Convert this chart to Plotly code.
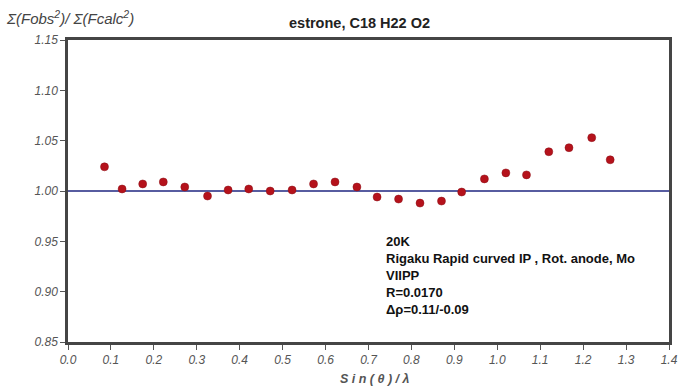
import plotly.graph_objects as go

# data
sin_theta = [0.085, 0.126, 0.174, 0.222, 0.272, 0.325, 0.373, 0.421, 0.471,
             0.522, 0.572, 0.622, 0.673, 0.720, 0.770, 0.820, 0.870, 0.917,
             0.970, 1.020, 1.068, 1.120, 1.167, 1.220, 1.263]
ratio = [1.024, 1.002, 1.007, 1.009, 1.004, 0.995, 1.001, 1.002, 1.000,
         1.001, 1.007, 1.009, 1.004, 0.994, 0.992, 0.988, 0.990, 0.999,
         1.012, 1.018, 1.016, 1.039, 1.043, 1.053, 1.031]
ref_x = [0.0, 1.4]
ref_y = [1.0, 1.0]
x_ticks = [round(0.1 * i, 1) for i in range(15)]
y_ticks = [0.85, 0.90, 0.95, 1.00, 1.05, 1.10, 1.15]

info_lines = ["20K", "Rigaku Rapid curved IP , Rot. anode, Mo", "VIIPP",
              "R=0.0170", "\u0394\u03c1=0.11/-0.09"]

fig = go.Figure()

# reference line at 1.0
fig.add_trace(go.Scatter(
    x=ref_x, y=ref_y, mode="lines",
    line={"color": "#1f2680", "width": 1.5},
    hoverinfo="skip"
))

fig.add_trace(go.Scatter(
    x=sin_theta, y=ratio, mode="markers",
    marker={"color": "#b5121b", "size": 8,
            "line": {"color": "#8a0f16", "width": 0.5}}
))

axis_style = dict(
    showline=True, linecolor="#454545", linewidth=2.5, mirror=True,
    showgrid=False, zeroline=False,
    ticks="outside", ticklen=5, tickcolor="#555555", tickwidth=1,
    tickfont={"size": 12, "color": "#555555"},
)

fig.update_xaxes(range=[0, 1.4], tickvals=x_ticks,
                 ticktext=[f"<i>{v:.1f}</i>" for v in x_ticks], **axis_style)
fig.update_yaxes(range=[0.85, 1.15], tickvals=y_ticks,
                 ticktext=[f"<i>{v:.2f}</i>" for v in y_ticks], **axis_style)

# y title (top left)
fig.add_annotation(
    xref="paper", yref="paper", x=-0.107, y=1.076, xanchor="left", yanchor="middle",
    text="<i>\u03a3(Fobs<sup>2</sup>)/ \u03a3(Fcalc<sup>2</sup>)</i>",
    showarrow=False,
    font={"size": 15, "color": "#444444"}
)

# title
fig.add_annotation(
    xref="paper", yref="paper", x=0.485, y=1.056, xanchor="center", yanchor="middle",
    text="<b>estrone, C18 H22 O2</b>", showarrow=False,
    font={"size": 14.5, "color": "#222222"}
)

# x title
fig.add_annotation(
    xref="paper", yref="paper", x=0.511, y=-0.1225, xanchor="center", yanchor="middle",
    text="<b><i>S i n ( \u03b8 ) / \u03bb</i></b>", showarrow=False,
    font={"size": 12.5, "color": "#555555"}
)

# info block
fig.add_annotation(
    xref="paper", yref="paper", x=0.525, y=0.365, xanchor="left", yanchor="top",
    text="<br>".join(f"<b>{t}</b>" for t in info_lines),
    showarrow=False, align="left",
    font={"size": 13, "color": "#111111"}
)

fig.update_layout(
    width=689, height=387,
    margin={"l": 68, "r": 11, "t": 40, "b": 45},
    paper_bgcolor="white", plot_bgcolor="white",
    font={"family": "Arial, Liberation Sans, sans-serif"},
    showlegend=False
)

fig.write_html("out.html", config={"displayModeBar": False},
               post_script="document.body.style.margin='0';")
